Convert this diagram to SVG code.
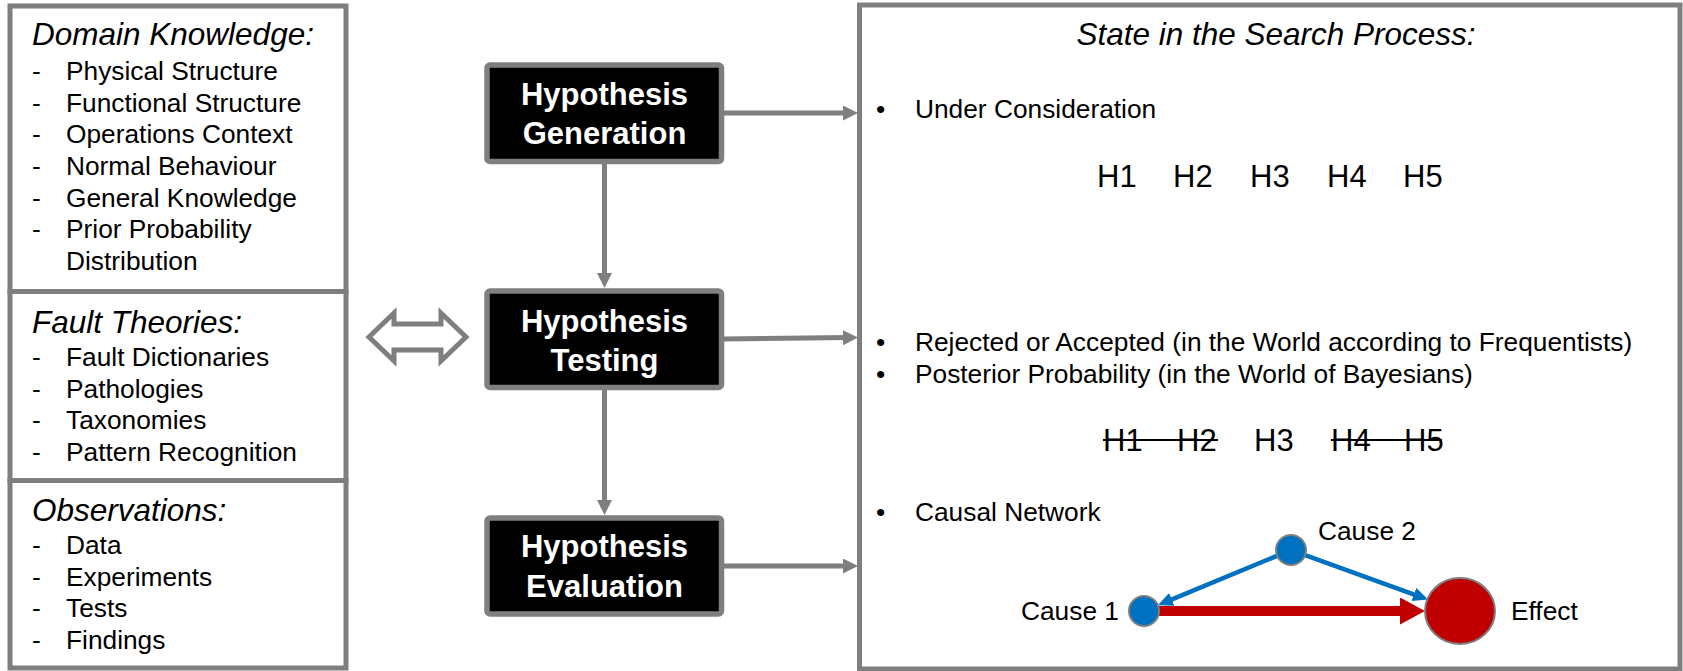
<svg xmlns="http://www.w3.org/2000/svg" width="1683" height="671" viewBox="0 0 1683 671">
  <style>
    .frame { fill: #ffffff; stroke: #7f7f7f; stroke-width: 5; }
    .step { fill: #000000; stroke: #7f7f7f; stroke-width: 5.5; }
    .stepText { font-family: "Liberation Sans", Arial, sans-serif; font-weight: bold; font-size: 31px; fill: #ffffff; text-anchor: middle; }
    .head { font-family: "Liberation Sans", Arial, sans-serif; font-style: italic; font-size: 31.5px; fill: #000000; }
    .item { font-family: "Liberation Sans", Arial, sans-serif; font-size: 26.3px; fill: #000000; }
    .hyp { font-family: "Liberation Sans", Arial, sans-serif; font-size: 31px; fill: #000000; }
    .flow { fill: none; stroke: #7f7f7f; stroke-width: 5; }
    .blue { fill: none; stroke: #0070c0; stroke-width: 4.5; }
    .red { fill: none; stroke: #c00000; stroke-width: 10; }
    .strike { stroke: #000000; stroke-width: 2; }
    .dot { stroke: #7f7f7f; stroke-width: 2; }
  </style>
  <defs>
    <marker id="grayHead" markerUnits="userSpaceOnUse" markerWidth="16" markerHeight="16" refX="7" refY="7.5" orient="auto">
      <path d="M0,0 L15,7.5 L0,15 z" fill="#7f7f7f"/>
    </marker>
    <marker id="blueHead" markerUnits="userSpaceOnUse" markerWidth="16" markerHeight="16" refX="7" refY="7" orient="auto">
      <path d="M0,0 L15,7 L0,14 z" fill="#0070c0"/>
    </marker>
    <marker id="redHead" markerUnits="userSpaceOnUse" markerWidth="26" markerHeight="28" refX="12" refY="13.5" orient="auto">
      <path d="M0,0 L25,13.5 L0,27 z" fill="#c00000"/>
    </marker>
  </defs>

  <!-- knowledge sources (left column) -->
  <g id="domain-knowledge">
    <rect class="frame" x="10" y="6" width="336" height="285.5"/>
    <text class="head" x="32" y="45">Domain Knowledge:</text>
    <g class="item">
      <text x="32" y="80">-</text><text x="66" y="80">Physical Structure</text>
      <text x="32" y="111.7">-</text><text x="66" y="111.7">Functional Structure</text>
      <text x="32" y="143.3">-</text><text x="66" y="143.3">Operations Context</text>
      <text x="32" y="175">-</text><text x="66" y="175">Normal Behaviour</text>
      <text x="32" y="206.7">-</text><text x="66" y="206.7">General Knowledge</text>
      <text x="32" y="238.3">-</text><text x="66" y="238.3">Prior Probability</text>
      <text x="66" y="270">Distribution</text>
    </g>
  </g>
  <g id="fault-theories">
    <rect class="frame" x="10" y="291.5" width="336" height="189"/>
    <text class="head" x="32" y="333">Fault Theories:</text>
    <g class="item">
      <text x="32" y="365.5">-</text><text x="66" y="365.5">Fault Dictionaries</text>
      <text x="32" y="397.5">-</text><text x="66" y="397.5">Pathologies</text>
      <text x="32" y="429">-</text><text x="66" y="429">Taxonomies</text>
      <text x="32" y="460.5">-</text><text x="66" y="460.5">Pattern Recognition</text>
    </g>
  </g>
  <g id="observations">
    <rect class="frame" x="10" y="480.5" width="336" height="187.5"/>
    <text class="head" x="32" y="521">Observations:</text>
    <g class="item">
      <text x="32" y="554">-</text><text x="66" y="554">Data</text>
      <text x="32" y="585.5">-</text><text x="66" y="585.5">Experiments</text>
      <text x="32" y="617">-</text><text x="66" y="617">Tests</text>
      <text x="32" y="648.5">-</text><text x="66" y="648.5">Findings</text>
    </g>
  </g>

  <!-- two-way exchange between knowledge and testing -->
  <g id="exchange">
    <polygon points="369,337 394,313 394,324 441,324 441,313 466,337 441,361 441,350 394,350 394,361" fill="#ffffff" stroke="#7f7f7f" stroke-width="5" stroke-linejoin="miter"/>
  </g>

  <!-- process steps -->
  <g id="hypothesis-generation">
    <rect class="step" x="487" y="65" width="234.5" height="96.5" rx="3"/>
    <text class="stepText" x="604.5" y="105">Hypothesis</text>
    <text class="stepText" x="604.5" y="144">Generation</text>
  </g>
  <g id="hypothesis-testing">
    <rect class="step" x="487" y="291" width="234.5" height="96.5" rx="3"/>
    <text class="stepText" x="604.5" y="331.5">Hypothesis</text>
    <text class="stepText" x="604.5" y="370.5">Testing</text>
  </g>
  <g id="hypothesis-evaluation">
    <rect class="step" x="487" y="518" width="234.5" height="96" rx="3"/>
    <text class="stepText" x="604.5" y="557">Hypothesis</text>
    <text class="stepText" x="604.5" y="596.5">Evaluation</text>
  </g>

  <!-- search state panel -->
  <g id="search-state">
    <rect class="frame" x="859.5" y="5" width="820.5" height="664"/>
    <text class="head" x="1276" y="45" text-anchor="middle" font-size="33">State in the Search Process:</text>
    <g class="item">
      <text x="876" y="118">•</text><text x="915" y="118">Under Consideration</text>
      <text x="876" y="351">•</text><text x="915" y="351">Rejected or Accepted (in the World according to Frequentists)</text>
      <text x="876" y="383">•</text><text x="915" y="383">Posterior Probability (in the World of Bayesians)</text>
      <text x="876" y="521">•</text><text x="915" y="521">Causal Network</text>
    </g>
    <g class="hyp">
      <text x="1097" y="187">H1</text>
      <text x="1173" y="187">H2</text>
      <text x="1250" y="187">H3</text>
      <text x="1327" y="187">H4</text>
      <text x="1403" y="187">H5</text>
      <text x="1103" y="451">H1</text>
      <text x="1177" y="451">H2</text>
      <text x="1254" y="451">H3</text>
      <text x="1331" y="451">H4</text>
      <text x="1404" y="451">H5</text>
    </g>
    <line class="strike" x1="1103" y1="440" x2="1218" y2="440"/>
    <line class="strike" x1="1331" y1="440" x2="1442" y2="440"/>
  </g>

  <!-- connectors -->
  <g id="connectors">
    <path class="flow" d="M724,113 L850,113" marker-end="url(#grayHead)"/>
    <path class="flow" d="M604.5,164 L604.5,280" marker-end="url(#grayHead)"/>
    <path class="flow" d="M724,339 L850,337.6" marker-end="url(#grayHead)"/>
    <path class="flow" d="M604.5,390 L604.5,507" marker-end="url(#grayHead)"/>
    <path class="flow" d="M724,566 L850,566" marker-end="url(#grayHead)"/>
    <path class="blue" d="M1277,555.8 L1165.3,602.1" marker-end="url(#blueHead)"/>
    <path class="blue" d="M1305.1,555.1 L1420.5,596.8" marker-end="url(#blueHead)"/>
    <path class="red" d="M1159,611 L1412,611" marker-end="url(#redHead)"/>
  </g>

  <!-- causal network nodes -->
  <g id="cause-2">
    <circle class="dot" cx="1291" cy="550" r="15" fill="#0070c0"/>
    <text class="item" x="1318" y="540">Cause 2</text>
  </g>
  <g id="cause-1">
    <circle class="dot" cx="1144" cy="611" r="15" fill="#0070c0"/>
    <text class="item" x="1021" y="620">Cause 1</text>
  </g>
  <g id="effect">
    <ellipse class="dot" cx="1460" cy="611" rx="35" ry="33" fill="#c00000"/>
    <text class="item" x="1511" y="620">Effect</text>
  </g>
</svg>
